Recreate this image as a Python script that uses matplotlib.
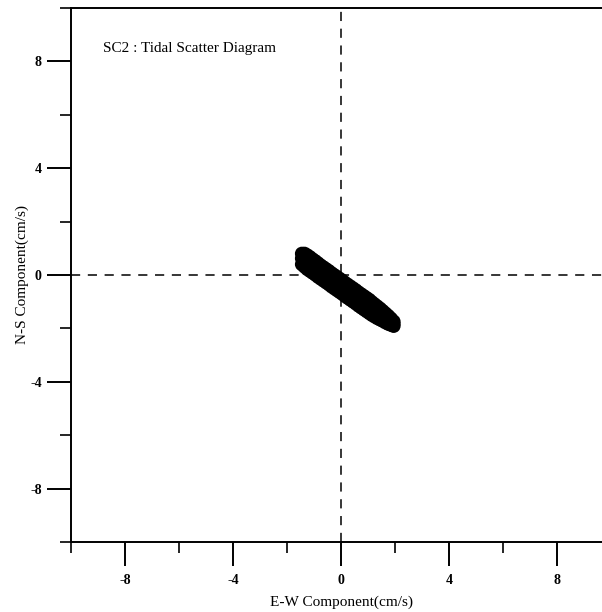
#!/usr/bin/env python3
"""SC2 tidal scatter diagram (E-W vs N-S current components)."""
import matplotlib
matplotlib.use("Agg")
import matplotlib.pyplot as plt
from matplotlib.ticker import MultipleLocator

# tidal current components (cm/s)
east = [-1.45, -1.35, -1.25, -1.15, -1.05, -0.95, -0.85, -0.75, -0.65, -0.55,
        -0.45, -0.35, -0.25, -0.15, -0.05, 0.05, 0.15, 0.25, 0.35, 0.45,
        0.55, 0.65, 0.75, 0.85, 0.95, 1.05, 1.15, 1.25, 1.35, 1.45,
        1.55, 1.65, 1.75, 1.85, 1.95]
north_mid = [0.62, 0.55, 0.47, 0.40, 0.33, 0.26, 0.18, 0.11, 0.04, -0.03,
             -0.10, -0.18, -0.25, -0.32, -0.39, -0.46, -0.54, -0.61, -0.68, -0.75,
             -0.82, -0.90, -0.97, -1.04, -1.11, -1.18, -1.26, -1.33, -1.40, -1.47,
             -1.54, -1.62, -1.69, -1.76, -1.83]
north_hi = [0.80, 0.80, 0.74, 0.67, 0.59, 0.52, 0.44, 0.36, 0.29, 0.22,
            0.15, 0.07, 0.00, -0.07, -0.14, -0.21, -0.29, -0.36, -0.43, -0.50,
            -0.57, -0.65, -0.72, -0.79, -0.86, -0.93, -1.02, -1.10, -1.18, -1.26,
            -1.35, -1.44, -1.53, -1.63, -1.74]
north_lo = [0.40, 0.31, 0.22, 0.15, 0.08, 0.01, -0.07, -0.14, -0.21, -0.28,
            -0.35, -0.43, -0.50, -0.57, -0.64, -0.71, -0.79, -0.86, -0.93, -1.00,
            -1.07, -1.15, -1.22, -1.29, -1.36, -1.43, -1.50, -1.56, -1.62, -1.67,
            -1.72, -1.78, -1.83, -1.87, -1.91]

major_ticks = [-8, -4, 0, 4, 8]

plt.rcParams['font.family'] = ['Liberation Serif', 'DejaVu Serif']
plt.rcParams['axes.unicode_minus'] = False

fig = plt.figure(figsize=(6.02, 6.12), dpi=100)
ax = fig.add_axes([71 / 602, 70 / 612, 540 / 602, 534 / 612])

for north in (north_mid, north_hi, north_lo):
    ax.scatter(east, north, s=100, c='black', edgecolors='none', zorder=3)

ax.axhline(0, color='black', lw=1.1, ls=(0, (6, 5)), zorder=1)
ax.axvline(0, color='black', lw=1.1, ls=(0, (6, 5)), zorder=1)

ax.set_xlim(-10, 10)
ax.set_ylim(-10, 10)
ax.set_xticks(major_ticks)
ax.set_yticks(major_ticks)
ax.xaxis.set_minor_locator(MultipleLocator(4, offset=2))
ax.yaxis.set_minor_locator(MultipleLocator(4, offset=2))
ax.tick_params(which='major', direction='out', length=17, width=1.4, labelsize=10)
ax.tick_params(axis='x', which='major', pad=6)
ax.tick_params(axis='y', which='major', pad=4)
ax.tick_params(which='minor', direction='out', length=8, width=1.2)
for lab in ax.get_xticklabels() + ax.get_yticklabels():
    lab.set_fontweight('bold')

for side in ax.spines.values():
    side.set_linewidth(1.4)

ax.set_xlabel('E-W Component(cm/s)', fontsize=11, labelpad=6)
ax.set_ylabel('N-S Component(cm/s)', fontsize=11, labelpad=1)
ax.text(-8.8, 8.5, 'SC2 : Tidal Scatter Diagram', fontsize=11, va='center')

fig.savefig('out.png', dpi=100)
